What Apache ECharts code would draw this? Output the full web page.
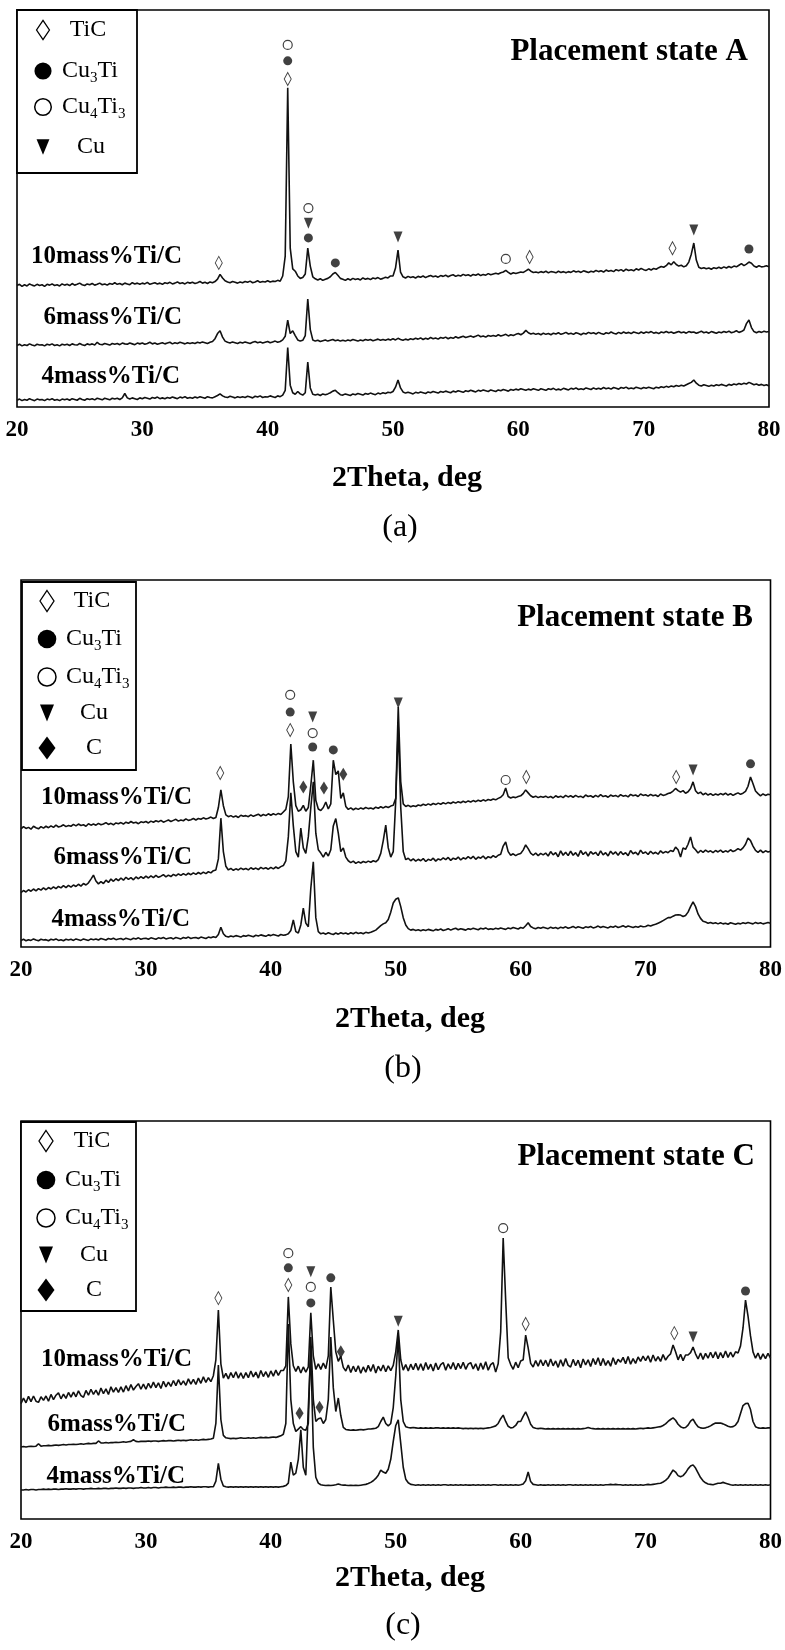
<!DOCTYPE html>
<html>
<head>
<meta charset="utf-8">
<script src="https://cdn.jsdelivr.net/npm/echarts/dist/echarts.min.js"></script>
<style>
  html, body { margin: 0; padding: 0; background: #fff; }
  #chart { width: 785px; height: 1650px; }
</style>
</head>
<body>
<div id="chart"></div>
<script>
// XRD scans: 2θ from 20° to 80° in 0.2° steps; intensities in a.u. (each panel 0–100, patterns stacked)
const twoThetaStart = 20;
const twoThetaStep = 0.2;

// ---- Placement state A ----
const a10 = [
  30.6,30.9,30.4,30.8,30.5,31.0,30.7,30.5,30.9,30.6,
  30.8,30.4,30.9,30.7,31.0,30.6,30.8,30.5,31.0,30.7,
  30.9,30.6,31.1,30.7,30.9,31.2,30.8,30.6,31.0,30.8,
  31.1,30.7,30.9,31.2,30.8,31.0,30.7,31.1,30.9,31.3,
  30.9,31.1,30.8,31.2,31.0,30.8,31.3,31.0,31.2,30.9,
  31.2,31.0,31.4,30.9,31.1,31.3,31.0,31.2,30.9,31.3,
  31.1,31.4,31.0,31.2,31.5,31.1,31.3,31.0,31.4,31.2,
  31.4,31.1,31.3,31.6,31.2,31.4,31.1,31.5,31.3,31.6,
  32.2,33.4,32.5,31.8,31.5,31.3,31.6,31.4,31.2,31.5,
  31.3,31.6,31.4,31.7,31.3,31.5,31.8,31.4,31.6,31.5,
  31.8,31.5,31.7,31.6,31.9,31.7,33.0,38.0,80.4,40.0,
  34.8,34.2,33.0,32.4,32.6,33.5,40.0,35.5,32.8,32.3,
  32.0,32.3,31.9,32.2,32.4,32.8,33.5,33.9,33.2,32.4,
  32.2,31.9,32.3,32.0,32.4,32.1,32.3,32.0,32.5,32.2,
  32.4,32.1,32.5,32.3,32.6,32.2,32.4,32.7,32.5,33.0,
  33.0,35.0,39.5,34.0,32.8,32.5,32.9,32.6,32.8,32.5,
  32.9,32.7,33.0,32.6,32.9,33.1,32.8,33.0,32.7,33.1,
  32.9,33.2,32.8,33.1,33.3,32.9,33.2,33.0,33.4,33.1,
  33.3,33.0,33.4,33.2,33.5,33.1,33.4,33.2,33.6,33.3,
  33.5,33.7,33.5,33.8,34.0,34.4,33.9,33.5,33.8,33.6,
  33.8,34.0,33.9,34.3,34.7,34.2,33.9,34.0,33.8,34.1,
  33.9,34.2,33.8,34.1,34.0,33.8,34.2,33.9,34.1,33.8,
  34.1,33.9,34.3,34.0,34.2,33.9,34.3,34.1,33.9,34.2,
  34.0,34.4,34.1,34.3,34.0,34.5,34.2,34.4,34.1,34.6,
  34.3,34.6,34.2,34.7,34.4,34.6,34.3,34.8,34.5,34.9,
  34.6,34.4,34.8,34.5,34.9,34.7,35.1,35.4,35.2,35.6,
  36.3,35.8,36.6,35.9,35.5,35.7,35.3,35.6,36.5,38.5,
  41.3,37.0,35.2,34.9,35.1,34.8,35.0,34.7,35.1,34.9,
  35.2,34.9,35.3,35.0,35.4,35.1,35.5,35.3,35.7,36.1,
  35.6,36.0,36.5,36.2,35.5,35.2,35.6,35.3,35.4,35.6,
  35.3
];
const a6 = [
  15.5,15.8,15.4,15.7,15.5,15.9,15.6,15.4,15.8,15.6,
  15.7,15.4,15.8,15.6,15.9,15.5,15.7,15.4,15.8,15.6,
  15.8,15.5,15.9,15.7,15.6,16.0,15.7,15.5,15.9,15.7,
  15.9,15.6,16.3,15.8,15.7,16.0,15.8,15.6,16.0,15.8,
  16.0,15.7,16.1,15.9,15.8,16.1,15.9,15.7,16.1,15.9,
  16.1,15.8,16.0,16.3,15.9,16.1,15.8,16.0,16.2,15.9,
  16.1,16.3,15.9,16.2,16.0,16.3,16.1,15.9,16.2,16.0,
  16.2,16.0,16.3,16.1,16.4,16.2,16.0,16.3,16.5,17.2,
  18.5,19.2,17.6,16.6,16.3,16.1,16.4,16.2,16.0,16.3,
  16.1,16.4,16.2,16.0,16.3,16.5,16.2,16.4,16.1,16.3,
  16.5,16.2,16.4,16.6,16.3,16.5,16.9,17.8,21.9,18.5,
  19.2,18.0,16.9,16.6,16.8,18.0,27.2,19.5,16.9,16.6,
  16.8,16.5,16.7,16.9,16.6,16.8,17.0,16.7,16.9,16.6,
  16.8,16.6,16.9,16.7,17.0,16.8,16.6,16.9,16.7,17.0,
  16.8,17.0,16.7,16.9,17.1,16.8,17.0,16.8,17.1,16.9,
  17.2,16.9,17.3,17.0,16.8,17.1,16.9,17.2,17.0,17.3,
  17.1,17.4,17.0,17.3,17.1,17.5,17.2,17.4,17.1,17.5,
  17.3,17.6,17.2,17.5,17.3,17.7,17.4,17.6,17.8,17.5,
  17.7,17.9,17.6,17.8,18.1,17.7,17.9,17.6,18.0,17.8,
  18.0,17.8,18.2,17.9,18.1,18.3,17.9,18.2,18.0,18.3,
  18.5,18.2,18.6,19.3,18.7,18.4,18.6,18.3,18.5,18.2,
  18.6,18.3,18.5,18.2,18.6,18.4,18.7,18.3,18.5,18.8,
  18.4,18.6,18.3,18.7,18.5,18.2,18.6,18.4,18.8,18.5,
  18.7,18.4,18.8,18.5,18.3,18.7,18.5,18.9,18.6,18.4,
  18.8,18.5,18.9,18.6,18.8,18.5,18.9,18.7,18.5,18.9,
  18.6,18.9,18.7,19.0,18.6,18.8,18.5,18.9,18.7,19.0,
  18.7,18.9,18.6,18.8,19.0,18.7,18.9,18.6,19.0,18.8,
  18.9,18.6,18.8,19.1,18.7,18.9,18.6,19.0,18.8,18.6,
  18.9,18.7,19.0,18.8,19.1,18.7,18.9,19.2,18.8,19.0,
  19.4,21.0,21.9,20.0,19.0,18.7,19.0,18.8,19.1,18.9,
  19.0
];
const a4 = [
  1.7,2.0,1.6,1.9,1.7,2.1,1.8,1.6,2.0,1.8,
  1.9,1.6,2.0,1.8,2.1,1.7,1.9,1.6,2.0,1.8,
  2.0,1.7,2.1,1.9,1.7,2.2,1.9,1.7,2.1,1.9,
  2.1,1.8,2.2,2.0,1.8,2.2,2.0,1.8,2.2,2.0,
  2.2,1.9,2.3,3.4,2.3,2.0,2.3,2.1,1.9,2.3,
  2.1,2.4,2.2,2.0,2.4,2.2,2.5,2.1,2.3,2.1,
  2.4,2.2,2.5,2.3,2.1,2.5,2.3,2.6,2.2,2.4,
  2.2,2.5,2.3,2.6,2.4,2.2,2.6,2.4,2.3,2.6,
  2.9,3.3,2.8,2.5,2.4,2.7,2.5,2.3,2.6,2.4,
  2.6,2.4,2.7,2.5,2.3,2.7,2.5,2.8,2.4,2.6,
  2.5,2.8,2.6,2.4,2.8,2.6,3.0,4.2,15.0,5.5,
  3.6,3.2,3.9,3.3,3.0,3.6,11.3,4.8,3.2,3.0,
  3.2,2.9,3.3,3.1,3.3,3.6,4.0,4.2,3.6,3.1,
  3.0,3.3,3.1,2.9,3.3,3.1,3.4,3.2,3.0,3.4,
  3.2,3.5,3.3,3.1,3.5,3.3,3.6,3.4,3.7,3.6,
  3.9,5.0,6.8,4.8,3.8,3.5,3.7,3.5,3.3,3.7,
  3.5,3.8,3.6,3.4,3.8,3.6,3.9,3.7,3.5,3.9,
  3.7,4.0,3.8,3.6,4.0,3.8,4.1,3.9,3.7,4.1,
  3.9,4.2,4.0,3.8,4.2,4.0,4.3,4.1,3.9,4.3,
  4.1,3.9,4.3,4.1,4.4,4.2,4.0,4.4,4.2,4.5,
  4.3,4.6,4.4,4.2,4.5,4.3,4.6,4.4,4.2,4.6,
  4.4,4.2,4.6,4.4,4.7,4.3,4.5,4.3,4.7,4.5,
  4.3,4.7,4.5,4.8,4.4,4.6,4.4,4.8,4.6,4.4,
  4.8,4.5,4.7,4.5,4.9,4.6,4.8,4.5,4.9,4.7,
  4.5,4.9,4.7,5.0,4.6,4.8,4.6,5.0,4.8,4.6,
  4.9,4.7,5.0,4.8,4.6,5.0,4.8,5.1,4.9,5.2,
  5.0,5.3,5.1,5.4,5.2,5.5,5.3,5.6,5.9,6.2,
  6.8,6.0,5.5,5.3,5.6,5.4,5.2,5.5,5.3,5.6,
  5.4,5.7,5.5,5.3,5.7,5.5,5.8,5.6,5.9,5.7,
  6.0,5.8,6.2,5.9,5.6,5.8,5.5,5.7,5.4,5.6,
  5.3
];

// ---- Placement state B ----
const b10 = [
  32.2,32.8,32.3,32.6,32.1,32.9,32.5,32.2,32.8,32.4,
  32.9,32.5,33.0,32.6,33.2,32.7,32.9,33.3,32.8,33.1,
  32.9,33.4,33.0,33.5,33.1,33.3,32.9,33.6,33.2,33.5,
  33.2,33.7,33.3,33.5,33.9,33.4,33.7,33.3,33.8,33.6,
  33.9,33.5,34.0,33.7,34.2,33.8,34.0,33.6,34.1,33.9,
  34.2,33.8,34.3,34.0,34.4,34.1,34.5,34.0,34.3,34.6,
  34.2,34.5,34.8,34.3,34.6,34.4,34.9,34.5,34.7,35.0,
  34.6,35.0,34.8,35.2,34.9,35.1,35.4,35.0,35.3,38.0,
  42.8,38.5,36.0,35.5,35.8,35.4,35.7,35.3,35.9,35.6,
  35.8,35.5,36.0,35.6,35.9,36.2,35.7,36.1,35.8,36.3,
  35.9,36.3,36.0,36.4,36.1,36.8,37.5,41.0,55.3,45.0,
  38.5,37.0,37.4,38.6,37.0,38.0,44.0,50.9,40.0,37.6,
  37.2,38.0,39.5,37.6,39.0,50.9,47.0,48.0,40.5,42.0,
  38.3,37.5,37.9,37.4,37.8,37.5,37.9,37.6,38.0,37.7,
  37.9,37.6,38.1,37.8,38.2,37.9,38.3,38.0,38.4,38.6,
  40.5,65.4,45.0,39.0,38.3,38.6,38.2,38.5,38.3,38.7,
  38.5,38.9,38.6,39.0,38.7,39.1,38.8,39.2,38.9,39.3,
  39.0,39.4,39.1,39.5,39.2,39.6,39.3,39.7,39.4,39.8,
  39.5,39.9,39.6,40.0,39.7,40.1,39.8,40.2,40.0,40.3,
  40.1,40.5,40.8,41.5,43.3,41.0,40.6,40.9,40.7,41.0,
  41.2,41.8,42.8,42.0,41.2,40.8,41.1,40.7,41.0,40.8,
  41.1,40.7,41.0,40.6,41.2,40.8,41.1,40.7,41.3,40.9,
  41.2,40.8,41.3,40.9,41.1,40.7,41.4,41.0,41.2,40.8,
  41.3,40.9,41.5,41.0,41.2,40.8,41.4,41.1,41.3,40.9,
  41.5,41.1,41.3,40.9,41.6,41.2,41.4,41.0,41.7,41.3,
  41.5,41.1,41.6,41.2,41.4,41.0,41.7,41.3,41.5,41.8,
  42.0,42.5,43.2,42.6,42.2,42.6,41.9,42.3,43.2,45.0,
  42.6,41.8,42.2,41.5,41.9,41.4,41.8,41.3,41.7,41.4,
  41.8,41.5,41.9,41.4,41.8,41.3,41.7,42.0,41.6,41.9,
  42.4,43.8,46.3,44.5,42.5,41.8,41.2,41.7,41.3,41.6,
  41.5
];
const b6 = [
  14.8,15.4,15.0,15.6,15.2,15.8,15.3,15.9,15.5,16.1,
  15.6,16.2,15.8,16.4,15.9,16.5,16.1,16.7,16.2,16.8,
  16.3,16.9,16.5,17.1,16.6,17.3,16.9,17.5,18.5,19.6,
  18.0,17.2,17.8,17.3,18.2,17.6,18.5,17.9,18.6,18.1,
  18.8,18.2,19.0,18.4,18.9,18.3,19.1,18.6,19.2,18.7,
  19.3,18.8,19.4,18.9,19.5,19.0,19.3,19.7,19.1,19.6,
  19.2,19.8,19.4,19.9,19.5,20.0,19.6,20.1,19.7,20.2,
  19.8,20.3,19.9,20.4,20.0,20.5,20.2,20.8,21.0,24.0,
  35.1,26.0,22.0,21.0,21.4,20.9,21.3,21.0,21.5,21.1,
  21.4,21.0,21.6,21.2,21.5,21.1,21.7,21.3,21.6,21.2,
  21.7,21.3,21.8,21.4,21.9,22.2,23.5,30.0,42.0,33.0,
  26.0,24.5,32.4,27.0,25.5,30.0,38.0,45.0,31.0,26.5,
  25.6,24.5,25.8,24.8,26.5,33.0,35.0,31.0,26.0,27.0,
  24.5,23.5,23.0,23.4,22.8,23.2,22.9,23.3,23.0,23.4,
  23.1,23.5,23.2,23.8,25.5,29.0,33.2,27.0,24.5,26.0,
  40.0,60.0,38.0,26.0,23.8,24.2,23.5,24.0,23.4,23.9,
  23.5,24.1,23.3,23.9,23.6,24.2,23.4,24.0,23.7,24.3,
  23.8,24.4,23.6,24.2,23.9,24.5,23.7,24.3,24.0,24.6,
  24.1,24.7,23.9,24.5,24.2,24.8,24.0,24.6,24.3,24.9,
  24.4,25.0,25.3,27.5,28.6,26.0,25.0,25.4,24.9,25.3,
  25.5,26.4,27.8,26.8,25.6,25.0,25.6,24.9,25.5,25.1,
  25.6,24.8,26.0,25.1,25.7,24.6,26.2,25.0,25.8,24.9,
  26.1,25.0,25.7,24.7,26.3,25.2,25.9,24.8,26.0,25.3,
  25.8,24.9,26.2,25.1,25.7,24.8,26.1,25.3,25.9,25.0,
  26.0,25.2,25.7,24.9,26.3,25.4,25.8,25.1,26.4,25.5,
  25.9,25.2,26.1,25.4,25.8,25.3,26.2,25.6,26.0,25.7,
  26.3,26.0,27.2,26.5,24.5,27.0,26.6,28.0,30.0,27.2,
  26.5,25.6,26.3,25.8,26.4,25.9,26.2,25.7,26.3,25.9,
  26.4,25.8,26.2,25.9,26.5,26.0,26.3,26.8,26.4,27.0,
  28.0,29.7,29.0,27.5,26.3,25.8,26.4,25.7,26.2,25.9,
  26.1
];
const b4 = [
  1.8,2.1,1.7,2.0,1.8,2.2,1.9,1.7,2.1,1.9,
  2.0,1.7,2.1,1.9,2.2,1.8,2.0,1.7,2.1,1.9,
  2.1,1.8,2.2,2.0,1.8,2.2,2.0,1.8,2.2,2.0,
  2.2,1.9,2.3,2.1,1.9,2.3,2.1,2.4,2.0,2.2,
  2.3,2.0,2.4,2.2,2.0,2.4,2.2,2.5,2.1,2.3,
  2.4,2.1,2.5,2.3,2.1,2.5,2.3,2.6,2.2,2.4,
  2.5,2.2,2.6,2.4,2.2,2.6,2.4,2.7,2.3,2.5,
  2.6,2.3,2.7,2.5,2.3,2.7,2.5,2.8,2.6,3.4,
  5.4,3.6,2.9,2.7,3.0,2.8,3.1,2.9,2.7,3.1,
  2.9,3.2,3.0,2.8,3.2,3.0,3.3,3.1,2.9,3.3,
  3.1,3.4,3.2,3.0,3.4,3.2,3.3,3.6,4.5,7.4,
  4.2,3.8,6.0,10.6,6.5,5.5,16.0,23.2,8.0,4.2,
  3.6,3.8,3.5,3.9,3.6,3.4,3.8,3.5,3.9,3.6,
  3.8,3.5,3.9,3.6,4.0,3.7,3.9,3.6,4.0,3.8,
  4.0,4.3,4.6,5.2,5.8,6.3,6.6,7.5,9.5,12.0,
  13.0,13.4,11.0,8.0,6.0,5.0,4.6,4.8,4.5,4.7,
  4.4,4.7,4.5,4.8,4.6,4.4,4.8,4.6,4.9,4.5,
  4.7,5.0,4.6,4.9,5.1,4.7,5.0,4.8,4.6,5.0,
  4.8,5.1,4.9,4.7,5.1,4.9,5.2,4.8,5.0,4.8,
  5.1,4.9,5.2,5.0,4.8,5.2,5.0,5.3,5.1,4.9,
  5.3,5.1,5.8,6.6,5.6,5.2,5.0,5.3,5.1,5.4,
  5.2,5.0,5.4,5.1,5.3,5.0,5.4,5.2,5.5,5.1,
  5.3,5.6,5.2,5.5,5.3,5.1,5.5,5.3,5.6,5.2,
  5.4,5.7,5.3,5.6,5.4,5.2,5.6,5.4,5.7,5.3,
  5.5,5.8,5.4,5.7,5.5,5.3,5.6,5.4,5.7,5.5,
  5.6,5.9,5.7,6.0,6.2,6.5,6.8,7.2,7.6,8.0,
  8.0,8.4,8.7,8.8,8.7,8.3,8.6,9.5,11.0,12.3,
  11.0,9.0,7.8,7.0,6.8,6.5,6.7,6.4,6.6,6.3,
  6.6,6.3,6.5,6.2,6.6,6.4,6.2,6.5,6.3,6.6,
  6.4,6.7,6.5,6.3,6.7,6.4,6.6,6.3,6.5,6.7,
  6.5
];

// ---- Placement state C ----
const c10 = [
  29.0,30.4,29.2,30.8,29.5,30.9,29.6,29.3,30.7,29.8,
  30.9,29.6,31.3,30.0,31.1,31.7,30.2,31.4,30.3,31.8,
  30.6,31.9,30.7,32.2,31.0,30.6,32.3,31.1,32.6,31.3,
  32.4,31.1,32.9,31.5,32.7,31.3,33.2,31.9,33.0,31.8,
  33.2,31.9,33.5,32.2,33.8,32.4,33.3,34.0,32.6,33.9,
  32.6,34.1,32.9,34.4,33.0,34.2,32.8,34.6,33.2,34.4,
  33.3,34.8,33.5,35.0,33.7,34.7,33.6,35.2,33.9,35.1,
  33.8,35.4,34.1,35.7,34.3,35.5,34.5,36.0,40.0,52.5,
  39.0,35.4,36.6,35.2,36.8,35.5,37.0,35.4,36.7,35.3,
  36.8,35.5,37.2,35.7,36.9,35.4,37.3,35.8,37.0,35.6,
  37.2,35.9,37.4,36.1,37.3,37.3,38.5,55.8,44.0,38.5,
  37.1,38.4,36.7,38.2,36.9,38.2,51.8,41.0,37.6,39.0,
  37.6,39.2,37.8,41.0,58.3,50.0,42.0,39.6,40.9,38.1,
  37.2,38.7,36.8,38.4,37.0,38.5,36.6,38.2,36.9,38.6,
  37.1,38.8,36.7,38.4,37.2,38.7,37.0,38.5,37.3,38.6,
  42.0,47.5,40.0,37.4,38.8,37.2,38.9,37.5,39.1,37.4,
  39.0,37.3,39.3,37.6,38.9,37.2,39.2,37.5,38.8,39.3,
  37.4,39.0,37.7,39.3,37.5,39.1,37.8,39.4,37.6,38.9,
  39.3,37.7,39.0,37.3,39.2,37.6,39.5,37.4,38.8,39.3,
  36.9,39.0,47.0,70.6,55.0,40.5,38.8,37.6,39.4,38.0,
  39.7,40.0,46.2,43.0,39.1,38.2,39.8,38.4,40.0,38.5,
  39.9,38.3,40.2,38.5,39.7,38.1,40.0,38.4,40.3,38.6,
  38.2,40.1,38.5,39.9,38.0,40.2,38.7,40.0,38.3,40.3,
  38.8,40.5,38.5,40.3,38.6,39.8,38.4,40.5,38.8,40.1,
  39.4,40.6,39.0,40.8,38.9,40.3,39.1,40.7,39.6,40.9,
  39.8,41.0,39.4,41.2,39.7,40.8,39.6,41.3,39.9,40.9,
  41.5,43.7,42.0,40.0,41.4,39.8,41.2,41.2,41.8,43.2,
  41.5,40.2,41.7,40.1,41.6,40.4,41.9,40.5,42.0,40.3,
  41.8,40.5,42.2,40.6,41.9,40.7,42.0,41.7,43.5,48.0,
  55.0,51.0,46.0,42.0,40.4,41.7,40.1,41.5,40.3,41.6,
  40.4
];
const c6 = [
  18.1,18.2,18.1,18.2,18.3,18.2,18.3,18.9,18.3,18.4,
  18.4,18.5,18.4,18.5,18.6,18.5,18.6,18.7,18.6,18.7,
  18.7,18.8,18.7,18.8,18.9,18.8,18.9,19.0,18.9,19.0,
  19.0,19.6,19.1,19.1,19.2,19.1,19.2,19.2,19.3,19.2,
  19.3,19.4,19.3,19.4,19.5,19.9,19.5,19.4,19.5,19.5,
  19.5,19.6,19.5,19.6,19.6,19.5,19.6,19.7,19.6,19.7,
  19.7,19.6,19.7,19.8,19.7,19.8,19.7,19.8,19.9,19.8,
  19.9,19.8,19.9,20.0,19.9,20.0,20.1,20.3,24.0,38.7,
  25.0,21.0,20.4,20.3,20.2,20.3,20.2,20.3,20.4,20.3,
  20.3,20.4,20.3,20.4,20.3,20.4,20.5,20.4,20.5,20.4,
  20.5,20.6,20.5,20.7,20.9,21.3,24.0,49.0,30.0,24.0,
  22.0,22.6,23.2,22.5,22.3,24.0,45.7,30.0,24.5,25.2,
  25.4,24.0,25.0,30.0,45.7,33.0,27.0,30.4,26.0,23.0,
  22.5,22.4,22.3,22.4,22.3,22.4,22.5,22.4,22.5,22.6,
  22.6,22.7,22.8,23.2,24.5,25.6,24.0,23.4,24.0,28.0,
  36.0,46.0,30.0,24.5,23.2,23.0,22.9,23.0,22.9,22.8,
  22.9,22.8,22.9,22.8,22.9,22.8,22.9,22.9,22.8,22.9,
  22.8,22.9,22.8,22.9,22.8,22.9,22.8,22.7,22.8,22.7,
  22.8,22.7,22.8,22.7,22.8,22.7,22.8,22.9,23.0,23.2,
  23.4,24.0,25.2,26.1,24.5,23.3,22.9,23.0,23.5,24.5,
  24.5,25.8,26.9,25.5,23.8,23.0,22.8,22.7,22.8,22.7,
  22.6,22.7,22.6,22.7,22.6,22.7,22.6,22.7,22.6,22.7,
  22.6,22.7,22.6,22.7,22.6,22.7,22.8,23.0,22.8,22.7,
  22.6,22.7,22.6,22.7,22.6,22.7,22.6,22.7,22.6,22.7,
  22.6,22.7,22.6,22.7,22.6,22.7,22.6,22.7,22.8,22.7,
  22.8,22.9,22.8,22.9,23.0,23.1,23.2,23.5,23.9,24.5,
  25.0,25.4,24.8,23.8,23.2,22.9,23.0,23.6,24.6,25.1,
  24.0,23.2,22.9,22.8,22.9,23.1,23.4,23.8,24.1,24.1,
  24.1,23.9,23.6,23.3,23.1,23.2,23.6,24.5,26.5,28.5,
  29.0,29.1,27.5,24.5,23.2,22.9,22.8,22.9,22.8,22.9,
  22.9
];
const c4 = [
  7.3,7.3,7.4,7.3,7.4,7.4,7.3,7.4,7.4,7.5,
  7.4,7.5,7.4,7.5,7.5,7.4,7.5,7.5,7.6,7.5,
  7.5,7.6,7.5,7.6,7.6,7.5,7.6,7.6,7.7,7.6,
  7.6,7.7,7.6,7.7,7.7,7.6,7.7,7.7,7.8,7.7,
  7.7,7.8,7.7,7.8,7.8,7.7,7.8,7.8,7.9,7.8,
  7.8,7.9,7.8,7.9,7.9,7.8,7.9,7.9,8.0,7.9,
  7.9,8.0,7.9,8.0,8.0,7.9,8.0,8.0,8.1,8.0,
  8.0,8.1,8.0,8.1,8.1,8.0,8.1,8.1,9.5,14.0,
  10.0,8.3,8.1,8.0,8.1,8.0,8.1,8.0,8.1,8.0,
  8.1,8.0,8.1,8.0,8.1,8.0,8.1,8.0,8.1,8.0,
  8.1,8.0,8.1,8.0,8.1,8.2,8.4,9.0,14.3,11.0,
  11.5,15.0,22.4,13.0,11.0,28.0,42.0,18.0,10.5,9.0,
  8.6,8.5,8.4,8.5,8.4,8.5,8.6,8.8,8.6,8.5,
  8.5,8.4,8.5,8.4,8.5,8.4,8.5,8.6,8.7,8.9,
  9.2,9.6,10.2,11.0,12.3,11.8,11.5,12.5,15.0,19.5,
  23.5,24.9,19.0,13.0,10.0,9.1,8.7,8.6,8.5,8.6,
  8.5,8.6,8.5,8.6,8.5,8.6,8.5,8.6,8.5,8.6,
  8.6,8.5,8.6,8.5,8.6,8.5,8.6,8.5,8.6,8.5,
  8.5,8.6,8.5,8.6,8.5,8.6,8.5,8.6,8.5,8.6,
  8.6,8.5,8.6,8.5,8.6,8.5,8.6,8.5,8.6,8.5,
  8.6,8.8,9.6,11.8,9.4,8.7,8.6,8.5,8.6,8.5,
  8.5,8.6,8.5,8.6,8.5,8.6,8.5,8.6,8.5,8.6,
  8.6,8.5,8.6,8.5,8.6,8.5,8.6,8.5,8.6,8.5,
  8.6,8.5,8.6,8.5,8.6,8.6,8.7,8.6,8.7,8.6,
  8.6,8.5,8.6,8.5,8.6,8.5,8.6,8.5,8.6,8.5,
  8.6,8.7,8.6,8.7,8.8,8.9,9.0,9.3,9.7,10.3,
  11.3,12.3,11.8,10.9,10.6,10.9,11.6,12.6,13.3,13.6,
  12.8,11.6,10.4,9.6,9.1,8.8,8.7,8.6,8.8,9.0,
  9.0,9.2,9.0,8.8,8.6,8.5,8.6,8.5,8.6,8.5,
  8.6,8.5,8.6,8.5,8.6,8.5,8.6,8.5,8.6,8.5,
  8.6
];

// Phase identification marks [2θ, intensity]
const aTiC    = [[36.1, 36.3], [41.6, 82.6], [60.9, 37.8], [72.3, 40.0]];
const aCu3Ti  = [[41.6, 87.2], [43.25, 42.6], [45.4, 36.3], [78.4, 39.8]];
const aCu4Ti3 = [[41.6, 91.2], [43.25, 50.1], [59.0, 37.3]];
const aCu     = [[43.25, 46.3], [50.4, 42.8], [74.0, 44.6]];

const bTiC    = [[35.95, 47.4], [41.55, 59.1], [60.45, 46.3], [72.45, 46.3]];
const bCu3Ti  = [[41.55, 64.0], [43.35, 54.5], [45.0, 53.7], [78.4, 49.9]];
const bCu4Ti3 = [[41.55, 68.7], [43.35, 58.3], [58.8, 45.5]];
const bCu     = [[43.35, 62.7], [50.2, 66.5], [73.8, 48.2]];
const bC      = [[42.6, 43.6], [44.25, 43.3], [45.8, 47.1]];

const cTiC    = [[35.8, 55.5], [41.4, 58.8], [60.4, 49.0], [72.3, 46.7]];
const cCu3Ti  = [[41.4, 63.1], [43.2, 54.3], [44.8, 60.6], [78.0, 57.3]];
const cCu4Ti3 = [[41.4, 66.8], [43.2, 58.3], [58.6, 73.1]];
const cCu     = [[43.2, 62.1], [50.2, 49.7], [73.8, 45.7]];
const cC      = [[42.3, 26.6], [43.9, 28.1], [45.6, 42.0]];

// Text
const sampleNames = ['10mass%Ti/C', '6mass%Ti/C', '4mass%Ti/C'];
const panelTitles = ['Placement state A', 'Placement state B', 'Placement state C'];
const panelLetters = ['(a)', '(b)', '(c)'];
const axisTitle = '2Theta, deg';

// ---------------------------------------------------------------
const SERIF = '"Liberation Serif", "Times New Roman", serif';
const INK = '#111';

const panels = [
  {
    grid: { left: 17, top: 10, width: 752, height: 397 },
    curves: [a10, a6, a4],
    marks: { TiC: aTiC, Cu3Ti: aCu3Ti, Cu4Ti3: aCu4Ti3, Cu: aCu },
    legend: { x: 17, y: 10, w: 120, h: 163, rows: [30, 71, 107, 147], symX: 43, scale: 0.92 },
    textX: { TiC: 88, Cu3Ti: 62, Cu4Ti3: 62, Cu: 91 },
    titleRight: 748, titleY: 52,
    sampleRight: [182, 182, 180], sampleY: [257, 318, 377],
    axisTitleX: 407, axisTitleY: 478, letterX: 400, letterY: 528
  },
  {
    grid: { left: 21, top: 580, width: 750, height: 367 },
    curves: [b10, b6, b4],
    marks: { TiC: bTiC, Cu3Ti: bCu3Ti, Cu4Ti3: bCu4Ti3, Cu: bCu, C: bC },
    legend: { x: 22, y: 582, w: 114, h: 188, rows: [601, 639, 677, 713, 748], symX: 47, scale: 1 },
    textX: { TiC: 92, Cu3Ti: 66, Cu4Ti3: 66, Cu: 94, C: 94 },
    titleRight: 753, titleY: 618,
    sampleRight: [192, 192, 190], sampleY: [798, 858, 920],
    axisTitleX: 410, axisTitleY: 1019, letterX: 403, letterY: 1069
  },
  {
    grid: { left: 21, top: 1121, width: 754, height: 398 },
    curves: [c10, c6, c4],
    marks: { TiC: cTiC, Cu3Ti: cCu3Ti, Cu4Ti3: cCu4Ti3, Cu: cCu, C: cC },
    legend: { x: 21, y: 1122, w: 115, h: 189, rows: [1141, 1180, 1218, 1255, 1290], symX: 46, scale: 1 },
    textX: { TiC: 92, Cu3Ti: 65, Cu4Ti3: 65, Cu: 94, C: 94 },
    titleRight: 755, titleY: 1157,
    sampleRight: [192, 186, 185], sampleY: [1360, 1425, 1477],
    axisTitleX: 410, axisTitleY: 1578, letterX: 403, letterY: 1626
  }
];

// in-plot phase mark styles
const markStyle = {
  TiC:    { symbol: 'diamond', symbolSize: [7, 13], itemStyle: { color: '#fff', borderColor: INK, borderWidth: 1 } },
  Cu3Ti:  { symbol: 'circle', symbolSize: 9, itemStyle: { color: INK } },
  Cu4Ti3: { symbol: 'circle', symbolSize: 9, itemStyle: { color: '#fff', borderColor: INK, borderWidth: 1.2 } },
  Cu:     { symbol: 'triangle', symbolSize: [9, 11], symbolRotate: 180, itemStyle: { color: INK } },
  C:      { symbol: 'diamond', symbolSize: [8, 13], itemStyle: { color: INK } }
};

function toPairs(vals) {
  return vals.map((v, i) => [+(twoThetaStart + i * twoThetaStep).toFixed(1), v]);
}

const grids = [], xAxes = [], yAxes = [], series = [], graphics = [];

panels.forEach((p, gi) => {
  grids.push(Object.assign({ show: true, borderColor: '#000', borderWidth: 1.6, backgroundColor: '#fff' }, p.grid));
  xAxes.push({
    type: 'value', gridIndex: gi, min: 20, max: 80, interval: 10,
    axisLine: { show: false }, axisTick: { show: false }, splitLine: { show: false },
    axisLabel: { color: '#000', fontFamily: SERIF, fontWeight: 'bold', fontSize: 23, margin: 12 }
  });
  yAxes.push({ type: 'value', gridIndex: gi, min: 0, max: 100, show: false });

  p.curves.forEach(vals => {
    series.push({
      type: 'line', xAxisIndex: gi, yAxisIndex: gi, data: toPairs(vals),
      symbol: 'none', lineStyle: { color: INK, width: 1.6 }, silent: true
    });
  });

  Object.keys(p.marks).forEach(name => {
    series.push(Object.assign({
      type: 'scatter', xAxisIndex: gi, yAxisIndex: gi, data: p.marks[name], silent: true, z: 5
    }, markStyle[name]));
  });

  // legend box
  const L = p.legend;
  graphics.push({ type: 'rect', z: 20, shape: { x: L.x, y: L.y, width: L.w, height: L.h },
    style: { fill: '#fff', stroke: '#000', lineWidth: 1.8 } });
  const names = Object.keys(p.marks);
  names.forEach((name, k) => {
    const cy = L.rows[k], cx = L.symX, s = L.scale;
    let sym;
    if (name === 'TiC') {
      const w = 14 * s, h = 21 * s;
      sym = { type: 'polygon', shape: { points: [[cx, cy - h / 2], [cx + w / 2, cy], [cx, cy + h / 2], [cx - w / 2, cy]] },
        style: { fill: '#fff', stroke: '#000', lineWidth: 1.3 } };
    } else if (name === 'Cu3Ti') {
      sym = { type: 'circle', shape: { cx: cx, cy: cy, r: 9.3 * s }, style: { fill: '#000' } };
    } else if (name === 'Cu4Ti3') {
      sym = { type: 'circle', shape: { cx: cx, cy: cy, r: 9.0 * s }, style: { fill: '#fff', stroke: '#000', lineWidth: 1.5 } };
    } else if (name === 'Cu') {
      const w = 14 * s, h = 17 * s;
      sym = { type: 'polygon', shape: { points: [[cx - w / 2, cy - h / 2], [cx + w / 2, cy - h / 2], [cx, cy + h / 2]] },
        style: { fill: '#000' } };
    } else {
      const w = 17, h = 23;
      sym = { type: 'polygon', shape: { points: [[cx, cy - h / 2], [cx + w / 2, cy], [cx, cy + h / 2], [cx - w / 2, cy]] },
        style: { fill: '#000' } };
    }
    sym.z = 21;
    graphics.push(sym);

    const richText = {
      TiC: '{m|TiC}', Cu3Ti: '{m|Cu}{s|3}{m|Ti}', Cu4Ti3: '{m|Cu}{s|4}{m|Ti}{s|3}', Cu: '{m|Cu}', C: '{m|C}'
    }[name];
    const leftAligned = (name === 'Cu3Ti' || name === 'Cu4Ti3');
    graphics.push({
      type: 'text', z: 21, x: p.textX[name], y: cy,
      style: {
        text: richText, align: leftAligned ? 'left' : 'center', verticalAlign: 'middle', fill: '#000',
        rich: {
          m: { fontFamily: SERIF, fontSize: 24, fill: '#000' },
          s: { fontFamily: SERIF, fontSize: 15, fill: '#000', padding: [14, 0, 0, 0] }
        }
      }
    });
  });

  // panel title
  graphics.push({ type: 'text', z: 21, x: p.titleRight, y: p.titleY,
    style: { text: panelTitles[gi], align: 'right', verticalAlign: 'middle', fill: '#000',
      font: 'bold 31px ' + SERIF } });

  // sample labels
  sampleNames.forEach((s, k) => {
    graphics.push({ type: 'text', z: 21, x: p.sampleRight[k], y: p.sampleY[k],
      style: { text: s, align: 'right', verticalAlign: 'middle', fill: '#000', font: 'bold 25px ' + SERIF } });
  });

  // axis title and panel letter
  graphics.push({ type: 'text', z: 21, x: p.axisTitleX, y: p.axisTitleY,
    style: { text: axisTitle, align: 'center', verticalAlign: 'middle', fill: '#000', font: 'bold 30px ' + SERIF } });
  graphics.push({ type: 'text', z: 21, x: p.letterX, y: p.letterY,
    style: { text: panelLetters[gi], align: 'center', verticalAlign: 'middle', fill: '#000', font: '32px ' + SERIF } });
});

const chart = echarts.init(document.getElementById('chart'), null, { renderer: 'canvas' });
chart.setOption({
  animation: false,
  backgroundColor: '#fff',
  grid: grids,
  xAxis: xAxes,
  yAxis: yAxes,
  series: series,
  graphic: { elements: graphics }
});
</script>
</body>
</html>
